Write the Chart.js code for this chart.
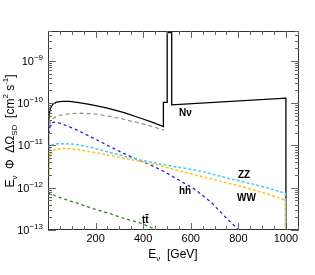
<!DOCTYPE html>
<html><head><meta charset="utf-8">
<script src="https://cdn.jsdelivr.net/npm/chart.js@4"></script>
<style>html,body{margin:0;padding:0;background:#fff}#wrap{width:315px;height:275px}</style>
</head><body><div id="wrap"><canvas id="c" width="315" height="275"></canvas></div>
<script>
// ---- data ----
const totalE = [0.3, 2, 5, 10, 20, 35, 60, 90, 130, 180, 250, 320, 390, 440, 485, 485, 501, 501, 520, 520, 1000, 1000];
const totalV = [2e-12, 3e-11, 5.5e-11, 7.5e-11, 9.5e-11, 1.06e-10, 1.1e-10, 1.1e-10, 1.03e-10, 9.3e-11, 7.6e-11, 6.0e-11, 4.4e-11, 3.5e-11, 2.8e-11, 1.05e-10, 1.05e-10, 4.7e-9, 4.7e-9, 9.1e-11, 1.32e-10, 1e-15];

const grayE = [0.3, 1, 3, 10, 25, 50, 90, 137, 192, 248, 317, 386, 440, 488];
const grayV = [1e-13, 1.2e-11, 2.5e-11, 3.5e-11, 4.5e-11, 5.2e-11, 5.6e-11, 5.8e-11, 5.6e-11, 5.0e-11, 4.2e-11, 3.35e-11, 2.8e-11, 2.3e-11];

const hhE = [0.3, 2, 8, 20, 35, 60, 109, 178, 248, 317, 386, 455, 485, 552, 621, 690, 746, 794, 830];
const hhV = [1e-13, 1.5e-11, 2.8e-11, 3.5e-11, 3.6e-11, 3.2e-11, 2.5e-11, 1.62e-11, 1.02e-11, 6.5e-12, 4.4e-12, 3.0e-12, 2.45e-12, 1.5e-12, 8.9e-13, 4.3e-13, 2.0e-13, 1.1e-13, 6e-14];

const zzE = [0.3, 2, 8, 20, 40, 75, 109, 178, 248, 317, 386, 455, 540, 621, 690, 759, 840, 912, 998, 1000];
const zzV = [1e-13, 6e-12, 9e-12, 1.05e-11, 1.1e-11, 1.1e-11, 1.07e-11, 9.1e-12, 7.1e-12, 5.6e-12, 4.55e-12, 3.8e-12, 3.1e-12, 2.6e-12, 2.1e-12, 1.66e-12, 1.3e-12, 1.03e-12, 7.4e-13, 1e-15];

const wwE = [0.3, 3, 10, 25, 50, 80, 120, 178, 248, 317, 386, 455, 540, 621, 690, 759, 840, 912, 998, 1000];
const wwV = [1e-13, 3e-12, 6e-12, 7.8e-12, 8.4e-12, 8.5e-12, 8.1e-12, 7.1e-12, 6.0e-12, 5.0e-12, 4.2e-12, 3.5e-12, 2.6e-12, 2.0e-12, 1.6e-12, 1.27e-12, 9.7e-13, 7.4e-13, 5.1e-13, 1e-15];

const ttE = [0.2, 1.5, 60, 123, 190, 264, 330, 390, 459, 520];
const ttV = [1e-14, 7.4e-13, 5.6e-13, 4.3e-13, 3.2e-13, 2.4e-13, 1.8e-13, 1.45e-13, 1.0e-13, 7e-14];

const xTickMajor = [200, 400, 600, 800, 1000];
const xTickLabels = ['200', '400', '600', '800', '1000'];
const yDecades = [-13, -12, -11, -10, -9];
const yTickLabels = ['10', '10', '10', '10', '10'];
const yTickExps = ['−13', '−12', '−11', '−10', '−9'];
const curveNames = ['Nν', 'ZZ', 'WW', 'hh', 'tt'];

// ---- chart ----
const pts = (xs, ys) => xs.map((x, i) => ({x: x, y: ys[i]}));
const FONT = '"Liberation Sans", Arial, sans-serif';

function ds(xs, ys, color, dash, w) {
  return {data: pts(xs, ys), borderColor: color, borderWidth: w, borderDash: dash,
          pointRadius: 0, tension: 0, fill: false, clip: 0};
}

const overlay = {
  id: 'overlay',
  afterDraw(chart) {
    const ctx = chart.ctx, a = chart.chartArea;
    const xs = chart.scales.x, ys = chart.scales.y;
    ctx.save();
    // frame
    ctx.strokeStyle = '#333'; ctx.lineWidth = 1;
    ctx.strokeRect(Math.round(a.left) + 0.5, Math.round(a.top) + 0.5,
                   Math.round(a.right - a.left) - 1, Math.round(a.bottom - a.top) - 1);
    ctx.strokeStyle = '#666';
    ctx.beginPath();
    // x ticks (bottom & top)
    for (let v = 50; v < xs.max; v += 50) {
      const px = Math.round(xs.getPixelForValue(v)) + 0.5;
      const len = (v % 200 === 0) ? 7 : 4;
      ctx.moveTo(px, a.bottom); ctx.lineTo(px, a.bottom - len);
      ctx.moveTo(px, a.top); ctx.lineTo(px, a.top + len);
    }
    // y ticks (left & right)
    for (let d = -14; d <= -9; d++) {
      for (let m = 1; m <= 9; m++) {
        const v = m * Math.pow(10, d);
        if (v < ys.min * 0.999 || v > ys.max) continue;
        const py = Math.round(ys.getPixelForValue(v)) + 0.5;
        const len = m === 1 ? 8 : 4;
        ctx.moveTo(a.left, py); ctx.lineTo(a.left + len, py);
        ctx.moveTo(a.right, py); ctx.lineTo(a.right - len, py);
      }
    }
    ctx.stroke();

    ctx.fillStyle = '#000';
    // x tick labels
    ctx.font = '11px ' + FONT; ctx.textAlign = 'center'; ctx.textBaseline = 'alphabetic';
    xTickMajor.forEach((v, i) => {
      ctx.fillText(xTickLabels[i], xs.getPixelForValue(v), 242);
    });
    // y tick labels
    yDecades.forEach((d, i) => {
      const py = ys.getPixelForValue(Math.pow(10, d));
      ctx.font = '8px ' + FONT; ctx.textAlign = 'right';
      const ew = ctx.measureText(yTickExps[i]).width;
      ctx.fillText(yTickExps[i], 43, py - 1);
      ctx.font = '11px ' + FONT;
      ctx.fillText(yTickLabels[i], 43 - ew, py + 4);
    });

    // rich text helper
    function rich(parts, cx, cy, rot) {
      ctx.save();
      ctx.translate(cx, cy); ctx.rotate(rot);
      let total = 0;
      parts.forEach(p => { ctx.font = p[1] + 'px ' + FONT; total += ctx.measureText(p[0]).width; });
      let x = -total / 2;
      ctx.textAlign = 'left';
      parts.forEach(p => {
        ctx.font = p[1] + 'px ' + FONT;
        ctx.fillText(p[0], x, p[2]);
        x += ctx.measureText(p[0]).width;
      });
      ctx.restore();
    }
    // axis titles
    rich([['E', 12, 4], ['ν', 8, 7], ['  [GeV]', 12, 4]], 173, 254, 0);
    rich([['E', 12, 4], ['ν', 8, 7], ['  Φ  ΔΩ', 12, 4], ['SD', 8, 7], ['  [cm', 12, 4],
          ['2', 8, -2], [' s', 12, 4], ['-1', 8, -2], [']', 12, 4]], 10, 131, -Math.PI / 2);

    // curve labels
    ctx.font = 'bold 10px ' + FONT; ctx.textAlign = 'left';
    ctx.fillText(curveNames[0], 179, 116);
    ctx.fillText(curveNames[1], 238, 178);
    ctx.fillText(curveNames[2], 237, 201);
    ctx.fillText(curveNames[3], 179, 194);
    ctx.fillText(curveNames[4], 142, 223);
    const tw = ctx.measureText('t').width;
    ctx.strokeStyle = '#000'; ctx.lineWidth = 1;
    ctx.beginPath(); ctx.moveTo(142 + tw, 214.5); ctx.lineTo(142 + 2 * tw, 214.5); ctx.stroke();
    ctx.restore();
  }
};

new Chart(document.getElementById('c'), {
  type: 'line',
  data: {datasets: [
    ds(ttE, ttV, 'rgb(40,130,40)', [3, 3], 1.3),
    ds(wwE, wwV, 'rgb(255,195,30)', [3, 2], 1.5),
    ds(zzE, zzV, 'rgb(70,205,240)', [3, 2], 1.5),
    ds(hhE, hhV, 'rgb(35,35,225)', [3, 3], 1.3),
    ds(grayE, grayV, 'rgb(150,150,150)', [4, 3], 1.3),
    ds(totalE, totalV, '#000', [], 1.3)
  ]},
  options: {
    responsive: false, animation: false, devicePixelRatio: 1,
    layout: {padding: {left: 48, right: 16, top: 31, bottom: 45}},
    plugins: {legend: {display: false}, tooltip: {enabled: false}},
    scales: {
      x: {type: 'linear', min: 0, max: 1055, display: false},
      y: {type: 'logarithmic', min: 1e-13, max: 5.1e-9, display: false}
    }
  },
  plugins: [overlay]
});
</script>
</body></html>
